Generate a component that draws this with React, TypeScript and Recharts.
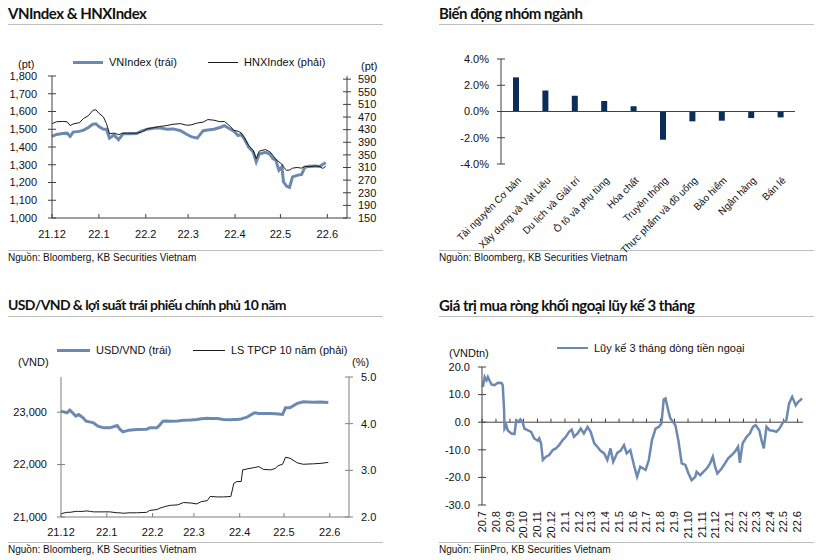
import React from "react";
import { LineChart, Line, XAxis, YAxis, BarChart, Bar, ReferenceLine } from "recharts";

const FONT = "'Liberation Sans', Arial, sans-serif";
const TITLE_FONT = "Lato, 'Liberation Sans', sans-serif";
const INK = "#111111";
const BLUE = "#6c89b2";
const NAVY = "#0c2d57";
const AX_DARK = "#404040";
const AX_GREY = "#7f7f7f";
const RULE = "#bfbfbf";

// VNIndex & HNXIndex (days from 2021-12-01)
const idxDays = [0, 3, 7, 10, 12, 14, 18, 21, 24, 27, 29, 31, 34, 36, 38, 41, 44, 47, 51, 56, 59, 63, 67, 71, 76, 80, 85, 89, 92, 96, 100, 103, 107, 111, 114, 118, 120, 123, 125, 127, 130, 133, 135, 137, 141, 144, 146, 148, 150, 152, 153, 155, 157, 159, 162, 165, 167, 170, 174, 177, 179, 181];
const vnIndex = [1460, 1471, 1476, 1478, 1460, 1484, 1488, 1495, 1510, 1528, 1531, 1515, 1500, 1500, 1450, 1468, 1441, 1474, 1475, 1476, 1490, 1500, 1505, 1508, 1500, 1502, 1492, 1472, 1458, 1450, 1492, 1496, 1500, 1510, 1520, 1500, 1490, 1465, 1470, 1447, 1400, 1372, 1316, 1360, 1370, 1360, 1335, 1325, 1269, 1288, 1204, 1180, 1172, 1232, 1240, 1245, 1284, 1292, 1293, 1290, 1303, 1310];
const hnxIndex = [449, 455, 456, 455, 443, 448, 452, 466, 474, 491, 493, 482, 470, 449, 417, 419, 414, 419, 419, 419, 422, 433, 436, 440, 443, 447, 449, 444, 445, 451, 454, 462, 460, 455, 456, 440, 428, 425, 420, 406, 380, 364, 338, 362, 367, 360, 349, 335, 328, 320, 312, 301, 302, 308, 310, 308, 314, 312, 315, 313, 307, 314];
const vnTicks = [1000, 1100, 1200, 1300, 1400, 1500, 1600, 1700, 1800];
const hnxTicks = [150, 190, 230, 270, 310, 350, 390, 430, 470, 510, 550, 590];
const monthTicks = [0, 31, 62, 90, 121, 151, 182];
const monthLabels = ["21.12", "22.1", "22.2", "22.3", "22.4", "22.5", "22.6"];

// Biến động nhóm ngành
const sectors = ["Tài nguyên Cơ bản", "Xây dựng và Vật Liệu", "Du lịch và Giải trí", "Ô tô và phụ tùng", "Hóa chất", "Truyền thông", "Thực phẩm và đồ uống", "Bảo hiểm", "Ngân hàng", "Bán lẻ"];
const sectorChange = [2.6, 1.6, 1.2, 0.8, 0.4, -2.15, -0.75, -0.7, -0.5, -0.45];
const pctTicks = [-4, -2, 0, 2, 4];

// USD/VND & 10y bond yield (days from 2021-12-01)
const fxDays = [0, 4, 6, 10, 12, 15, 17, 20, 22, 25, 29, 33, 38, 40, 42, 46, 51, 58, 60, 65, 67, 69, 71, 74, 79, 83, 88, 92, 95, 99, 101, 106, 110, 115, 117, 119, 122, 123, 126, 131, 134, 137, 142, 145, 147, 150, 152, 155, 160, 164, 171, 176, 181];
const usdVnd = [23019, 22987, 23040, 22924, 22955, 22892, 22828, 22809, 22796, 22732, 22700, 22700, 22745, 22669, 22624, 22656, 22669, 22672, 22700, 22700, 22760, 22828, 22830, 22828, 22830, 22847, 22852, 22860, 22875, 22885, 22880, 22880, 22860, 22855, 22860, 22860, 22870, 22880, 22904, 22987, 22975, 22975, 22975, 22970, 22965, 22955, 23083, 23083, 23166, 23197, 23190, 23193, 23185];
const bond10y = [2.07, 2.1, 2.1, 2.12, 2.12, 2.12, 2.13, 2.12, 2.11, 2.11, 2.11, 2.11, 2.09, 2.09, 2.08, 2.09, 2.09, 2.1, 2.14, 2.16, 2.19, 2.21, 2.23, 2.25, 2.26, 2.31, 2.3, 2.28, 2.33, 2.35, 2.44, 2.43, 2.43, 2.44, 2.72, 2.76, 2.76, 3.01, 3.03, 3.06, 3.08, 3.02, 3.01, 3.04, 3.1, 3.13, 3.28, 3.26, 3.16, 3.13, 3.14, 3.15, 3.17];
const usdTicks = [21000, 22000, 23000];
const bondTicks = [2, 3, 4, 5];

// Foreign net buying, 3M cumulative (days from 2020-07-01)
const flowDays = [2, 6, 10, 13, 17, 21, 28, 35, 43, 46, 49, 50, 54, 57, 65, 72, 76, 81, 85, 90, 94, 101, 109, 116, 124, 127, 131, 135, 142, 149, 157, 164, 171, 179, 186, 193, 199, 204, 212, 219, 226, 234, 241, 249, 256, 263, 271, 278, 285, 291, 300, 307, 315, 321, 329, 337, 344, 351, 363, 370, 377, 385, 392, 398, 403, 407, 414, 418, 424, 429, 436, 443, 451, 458, 465, 473, 476, 484, 491, 499, 506, 512, 517, 522, 532, 539, 546, 554, 561, 568, 572, 578, 587, 594, 601, 607, 615, 620, 625, 631, 638, 646, 653, 660, 668, 675, 681, 688, 696, 701, 706, 710];
const flowValues = [12.8, 16.4, 15.2, 16.4, 15.0, 13.7, 13.4, 14.3, 14.2, 13.4, 4.3, -2.3, -1.1, -2.9, -4.1, -4.3, 0.7, 0.1, 1.0, 0.1, -2.3, -2.9, -3.5, -5.9, -6.7, -5.9, -7.7, -13.7, -12.5, -11.9, -10.1, -9.5, -8.3, -6.5, -5.3, -3.5, -2.7, -5.3, -4.1, -2.3, -4.1, -1.7, -3.5, -7.7, -8.9, -10.4, -11.3, -13.7, -9.5, -14.3, -11.1, -10.4, -8.3, -11.3, -10.1, -15.5, -19.8, -16.1, -17.3, -13.7, -6.5, -2.3, -1.7, -0.5, 8.2, 8.6, 3.7, 1.3, 0.1, -1.1, -7.1, -14.9, -15.5, -18.6, -21.0, -19.8, -18.0, -19.2, -18.0, -16.7, -14.9, -12.5, -16.1, -18.6, -16.7, -14.9, -13.1, -11.9, -10.7, -8.9, -14.7, -7.7, -5.3, -4.1, -1.7, -1.1, -2.9, -6.5, -9.5, -1.7, -2.9, -3.1, -3.5, -2.3, 0.1, 0.7, 6.7, 9.2, 6.1, 7.3, 8.0, 8.6];
const flowMonthDays = [0, 31, 62, 92, 123, 153, 184, 215, 243, 274, 304, 335, 365, 396, 427, 457, 488, 518, 549, 580, 608, 639, 669, 700];
const flowMonthLabels = ["20.7", "20.8", "20.9", "20.10", "20.11", "20.12", "21.1", "21.2", "21.3", "21.4", "21.5", "21.6", "21.7", "21.8", "21.9", "21.10", "21.11", "21.12", "22.1", "22.2", "22.3", "22.4", "22.5", "22.6"];
const flowTicks = [-30, -20, -10, 0, 10, 20];

const idxRows = idxDays.map((d, i) => ({ d, vn: vnIndex[i], hnx: hnxIndex[i] }));
const sectorRows = sectors.map((name, i) => ({ name, v: sectorChange[i] }));
const fxRows = fxDays.map((d, i) => ({ d, usd: usdVnd[i], ls: bond10y[i] }));
const flowRows = flowDays.map((d, i) => ({ d, v: flowValues[i] }));

const comma = (v: number) => v.toLocaleString("en-US");

const yTick = (side: "left" | "right", gap: number, fmt: (v: number) => string, color: string) => (p: any) => {
  const ax = side === "left" ? p.x + gap : p.x - gap;
  return (
    <g>
      <line x1={ax - 4} x2={ax + 4} y1={p.y} y2={p.y} stroke={color} />
      <text x={p.x} y={p.y} dy="0.35em" textAnchor={side === "left" ? "end" : "start"} fontSize={11} fill={INK} fontFamily={FONT}>
        {fmt(p.payload.value)}
      </text>
    </g>
  );
};

const monthTick = (gap: number, color: string) => (p: any) => (
  <g>
    <line x1={p.x} x2={p.x} y1={p.y - gap} y2={p.y - gap - 4} stroke={color} />
    <text x={p.x} y={p.y} dy="0.71em" textAnchor="middle" fontSize={11} fill={INK} fontFamily={FONT}>
      {monthLabels[monthTicks.indexOf(p.payload.value)]}
    </text>
  </g>
);

const sectorTick = (p: any) => (
  <text x={p.x + 1} y={p.y} dy="0.71em" textAnchor="end" fontSize={10} fill={INK} fontFamily={FONT} transform={`rotate(-45 ${p.x + 1} ${p.y})`}>
    {p.payload.value}
  </text>
);

const flowTick = (p: any) => (
  <text x={p.x} y={p.y} dy="0.35em" textAnchor="end" fontSize={11} fill={INK} fontFamily={FONT} transform={`rotate(-90 ${p.x} ${p.y})`}>
    {flowMonthLabels[flowMonthDays.indexOf(p.payload.value)]}
  </text>
);

function Abs({ x, y, children }: { x: number; y: number; children: React.ReactNode }) {
  return <div style={{ position: "absolute", left: x, top: y }}>{children}</div>;
}

function Label({ x, y, size = 11, text }: { x: number; y: number; size?: number; text: string }) {
  return (
    <div style={{ position: "absolute", left: x, top: y - 8, height: 16, lineHeight: "16px", fontSize: size, fontFamily: FONT, color: INK, whiteSpace: "nowrap" }}>
      {text}
    </div>
  );
}

function Key({ x, y, w, thick, color, text }: { x: number; y: number; w: number; thick: number; color: string; text: string }) {
  return (
    <>
      <div style={{ position: "absolute", left: x, top: y - thick / 2, width: w, height: thick, background: color }} />
      <Label x={x + w + 6} y={y} text={text} />
    </>
  );
}

function Frame({ x, y, title, source, size = 15, spacing = -0.5 }: { x: number; y: number; title: string; source: string; size?: number; spacing?: number }) {
  return (
    <>
      <div style={{ position: "absolute", left: x, top: y + 2, height: 22, lineHeight: "22px", fontSize: size, fontWeight: 700, letterSpacing: spacing, fontFamily: TITLE_FONT, color: INK, whiteSpace: "nowrap" }}>
        {title}
      </div>
      <div style={{ position: "absolute", left: x, top: y + 24, width: 375, height: 1, background: RULE }} />
      <div style={{ position: "absolute", left: x, top: y + 250, width: 375, height: 1, background: RULE }} />
      <Label x={x} y={y + 258} size={10} text={source} />
    </>
  );
}

export default function App() {
  return (
    <div style={{ position: "absolute", left: 0, top: 0, width: 826, height: 560, background: "#fff", fontFamily: FONT }}>
      <Frame x={8} y={0} title="VNIndex & HNXIndex" source="Nguồn: Bloomberg, KB Securities Vietnam" />
      <Frame x={439} y={0} title="Biến động nhóm ngành" source="Nguồn: Bloomberg, KB Securities Vietnam" />
      <Frame x={8} y={292} size={14} spacing={-0.6} title="USD/VND & lợi suất trái phiếu chính phủ 10 năm" source="Nguồn: Bloomberg, KB Securities Vietnam" />
      <Frame x={439} y={292} title="Giá trị mua ròng khối ngoại lũy kế 3 tháng" source="Nguồn: FiinPro, KB Securities Vietnam" />

      {/* VNIndex & HNXIndex */}
      <Key x={73} y={62} w={30} thick={3} color={BLUE} text="VNIndex (trái)" />
      <Key x={208} y={62} w={30} thick={1} color="#1a1a1a" text="HNXIndex (phải)" />
      <Label x={18} y={64} text="(pt)" />
      <Label x={361} y={66} text="(pt)" />
      <Abs x={0} y={0}>
        <LineChart width={400} height={260} data={idxRows} margin={{ top: 76, right: 0, bottom: 22, left: 0 }}>
          <XAxis dataKey="d" type="number" domain={[0, 195]} ticks={monthTicks} interval={0} height={20} tickSize={0} tickMargin={12} tickLine={false} axisLine={{ stroke: AX_DARK }} tick={monthTick(12, AX_DARK)} />
          <YAxis yAxisId="l" domain={[1000, 1800]} ticks={vnTicks} interval={0} width={52} tickSize={0} tickMargin={15} tickLine={false} axisLine={{ stroke: AX_DARK }} tick={yTick("left", 15, comma, AX_DARK)} />
          <YAxis yAxisId="r" orientation="right" domain={[150, 600]} ticks={hnxTicks} interval={0} width={53} tickSize={0} tickMargin={11} tickLine={false} axisLine={{ stroke: AX_DARK }} tick={yTick("right", 11, String, AX_DARK)} />
          <Line yAxisId="l" type="linear" dataKey="vn" stroke={BLUE} strokeWidth={3} dot={false} isAnimationActive={false} />
          <Line yAxisId="r" type="linear" dataKey="hnx" stroke="#1a1a1a" strokeWidth={1} dot={false} isAnimationActive={false} />
        </LineChart>
      </Abs>

      {/* Biến động nhóm ngành */}
      <Abs x={410} y={0}>
        <BarChart width={416} height={260} data={sectorRows} margin={{ top: 59, right: 31, bottom: 0, left: 0 }}>
          <XAxis dataKey="name" interval={0} height={96} tickSize={0} tickMargin={12} tickLine={false} axisLine={false} tick={sectorTick} />
          <YAxis domain={[-4, 4]} ticks={pctTicks} interval={0} width={91} tickSize={0} tickMargin={12} tickLine={false} axisLine={{ stroke: AX_DARK }} tick={yTick("left", 12, (v) => v.toFixed(1) + "%", AX_DARK)} />
          <Bar dataKey="v" fill={NAVY} barSize={6} isAnimationActive={false} />
          <ReferenceLine y={0} stroke={AX_DARK} />
        </BarChart>
      </Abs>

      {/* USD/VND & LS TPCP */}
      <Key x={57} y={350} w={33} thick={3} color={BLUE} text="USD/VND (trái)" />
      <Key x={193} y={350} w={32} thick={1} color="#1a1a1a" text="LS TPCP 10 năm (phải)" />
      <Label x={18} y={362} text="(VND)" />
      <Label x={352} y={362} text="(%)" />
      <Abs x={0} y={280}>
        <LineChart width={400} height={280} data={fxRows} margin={{ top: 97, right: 0, bottom: 23, left: 0 }}>
          <XAxis dataKey="d" type="number" domain={[0, 195]} ticks={monthTicks} interval={0} height={20} tickSize={0} tickMargin={11} tickLine={false} axisLine={{ stroke: AX_GREY }} tick={monthTick(11, AX_GREY)} />
          <YAxis yAxisId="l" domain={[21000, 23670]} ticks={usdTicks} interval={0} width={61} tickSize={0} tickMargin={14} tickLine={false} axisLine={{ stroke: AX_GREY }} tick={yTick("left", 14, comma, AX_GREY)} />
          <YAxis yAxisId="r" orientation="right" domain={[2, 5]} ticks={bondTicks} interval={0} width={51} tickSize={0} tickMargin={12} tickLine={false} axisLine={{ stroke: AX_GREY }} tick={yTick("right", 12, (v) => v.toFixed(1), AX_GREY)} />
          <Line yAxisId="l" type="linear" dataKey="usd" stroke={BLUE} strokeWidth={3} dot={false} isAnimationActive={false} />
          <Line yAxisId="r" type="linear" dataKey="ls" stroke="#1a1a1a" strokeWidth={1} dot={false} isAnimationActive={false} />
        </LineChart>
      </Abs>

      {/* Khối ngoại */}
      <Key x={557} y={348} w={31} thick={2.5} color={BLUE} text="Lũy kế 3 tháng dòng tiền ngoại" />
      <Label x={449} y={353} text="(VNDtn)" />
      <Abs x={410} y={280}>
        <LineChart width={416} height={280} data={flowRows} margin={{ top: 87, right: 23, bottom: 0, left: 0 }}>
          <XAxis dataKey="d" type="number" domain={[0, 712]} ticks={flowMonthDays} interval={0} height={55} tickSize={0} tickMargin={6} tickLine={false} axisLine={false} tick={flowTick} />
          <YAxis domain={[-30, 20]} ticks={flowTicks} interval={0} width={72} tickSize={0} tickMargin={12} tickLine={false} axisLine={{ stroke: AX_DARK }} tick={yTick("left", 12, (v) => v.toFixed(1), AX_DARK)} />
          <ReferenceLine y={0} stroke={AX_DARK} />
          {flowMonthDays.map((d) => (
            <ReferenceLine key={d} segment={[{ x: d, y: 0 }, { x: d, y: 1.3 }]} stroke={AX_DARK} />
          ))}
          <Line type="linear" dataKey="v" stroke={BLUE} strokeWidth={2.5} dot={false} isAnimationActive={false} />
        </LineChart>
      </Abs>
    </div>
  );
}
